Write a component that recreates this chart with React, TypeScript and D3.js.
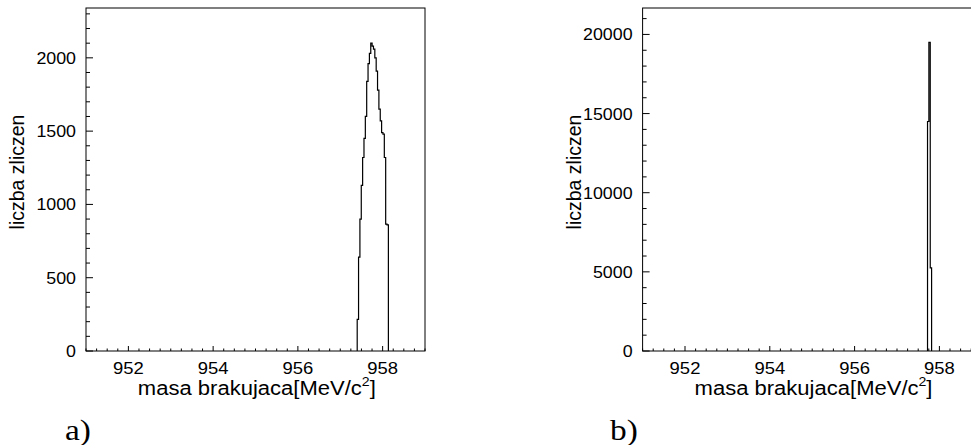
import React from "react";
import * as d3 from "d3";

// ---- data ----
const xDomain: [number, number] = [951, 959];
const xTickValues = [952, 954, 956, 958];
const binWidth = 0.032;

const leftBinStart = 957.4;
const leftCounts = [
  216, 640, 900, 1130, 1320, 1450, 1600, 1840, 1960, 2030, 2100, 2080,
  2060, 2000, 1910, 1780, 1650, 1570, 1490, 1480, 1320, 866, 860,
];
const leftYTicks = [0, 500, 1000, 1500, 2000];
const leftYMax = 2340;

const rightBinStart = 957.72;
const rightCounts = [14500, 19500, 5250];
const rightYTicks = [0, 5000, 10000, 15000, 20000];
const rightYMax = 21670;

const xTitle = "masa brakujaca[MeV/c";
const yTitle = "liczba zliczen";
const panelLabels = ["a)", "b)"];

type PanelProps = {
  left: number;
  right: number;
  top: number;
  bottom: number;
  yMax: number;
  yTicks: number[];
  yMinorStep: number;
  binStart: number;
  counts: number[];
  yTitleX: number;
  label: string;
  labelX: number;
};

function Panel(p: PanelProps) {
  const x = d3.scaleLinear().domain(xDomain).range([p.left, p.right]);
  const y = d3.scaleLinear().domain([0, p.yMax]).range([p.bottom, p.top]);

  const pts: [number, number][] = [[p.binStart, 0]];
  p.counts.forEach((c, i) => pts.push([p.binStart + i * binWidth, c]));
  pts.push([p.binStart + p.counts.length * binWidth, 0]);
  const line = d3
    .line<[number, number]>()
    .x((d) => x(d[0]))
    .y((d) => y(d[1]))
    .curve(d3.curveStepAfter);

  const xMinor = d3.range(xDomain[0], xDomain[1] + 0.001, 0.25);
  const yMinor = d3.range(0, p.yMax, p.yMinorStep);
  const cx = (p.left + p.right) / 2;
  const font = "'Liberation Sans', Arial, Helvetica, sans-serif";

  return (
    <g>
      <rect
        x={p.left}
        y={p.top}
        width={p.right - p.left}
        height={p.bottom - p.top}
        fill="none"
        stroke="#000"
        strokeWidth={1}
      />
      {/* y ticks */}
      {yMinor.map((v) => {
        const major = p.yTicks.includes(v);
        return (
          <line
            key={"ym" + v}
            x1={p.left}
            x2={p.left + (major ? 7 : 4)}
            y1={y(v)}
            y2={y(v)}
            stroke="#000"
            strokeWidth={1}
          />
        );
      })}
      {p.yTicks.map((v) => (
        <text
          key={"yt" + v}
          x={p.left - 10}
          y={y(v)}
          dy="0.36em"
          textAnchor="end"
          fontFamily={font}
          fontSize={16.5}
          transform={`translate(${p.left - 10},0) scale(1.08,1) translate(${-(p.left - 10)},0)`}
        >
          {v}
        </text>
      ))}
      {/* x ticks */}
      {xMinor.map((v) => {
        const major = xTickValues.some((t) => Math.abs(t - v) < 1e-6);
        return (
          <line
            key={"xm" + v}
            x1={x(v)}
            x2={x(v)}
            y1={p.bottom}
            y2={p.bottom - (major ? 5 : 2.5)}
            stroke="#000"
            strokeWidth={1}
          />
        );
      })}
      {xTickValues.map((v) => (
        <text
          key={"xt" + v}
          x={x(v)}
          y={374}
          textAnchor="middle"
          fontFamily={font}
          fontSize={16.5}
          transform={`translate(${x(v)},0) scale(1.12,1) translate(${-x(v)},0)`}
        >
          {v}
        </text>
      ))}
      {/* histogram */}
      <path d={line(pts) || ""} fill="none" stroke="#000" strokeWidth={1.2} />
      {/* x title */}
      <g transform={`translate(${cx},0) scale(1.13,1) translate(${-cx},0)`}>
        <text x={cx - 5} y={395} textAnchor="middle" fontFamily={font} fontSize={19.5}>
          {xTitle}
        </text>
        <text x={cx + 94} y={386} fontFamily={font} fontSize={12.5}>
          2
        </text>
        <text x={cx + 101} y={395} fontFamily={font} fontSize={19.5}>
          ]
        </text>
      </g>
      {/* y title */}
      <text
        transform={`translate(${p.yTitleX},172) rotate(-90)`}
        textAnchor="middle"
        fontFamily={font}
        fontSize={19.5}
      >
        {yTitle}
      </text>
      <text
        x={p.labelX}
        y={440}
        fontFamily="'Liberation Serif', 'Times New Roman', serif"
        fontSize={29}
        transform={`translate(${p.labelX},0) scale(1.15,1) translate(${-p.labelX},0)`}
      >
        {p.label}
      </text>
    </g>
  );
}

export default function App() {
  return (
    <svg
      width={971}
      height={445}
      style={{ position: "absolute", left: 0, top: 0, background: "#fff" }}
    >
      <rect x={0} y={0} width={971} height={445} fill="#fff" />
      <Panel
        left={86}
        right={425}
        top={8}
        bottom={351}
        yMax={leftYMax}
        yTicks={leftYTicks}
        yMinorStep={100}
        binStart={leftBinStart}
        counts={leftCounts}
        yTitleX={24}
        label={panelLabels[0]}
        labelX={65}
      />
      <Panel
        left={642.6}
        right={981.8}
        top={8}
        bottom={351}
        yMax={rightYMax}
        yTicks={rightYTicks}
        yMinorStep={1000}
        binStart={rightBinStart}
        counts={rightCounts}
        yTitleX={581}
        label={panelLabels[1]}
        labelX={610}
      />
    </svg>
  );
}
